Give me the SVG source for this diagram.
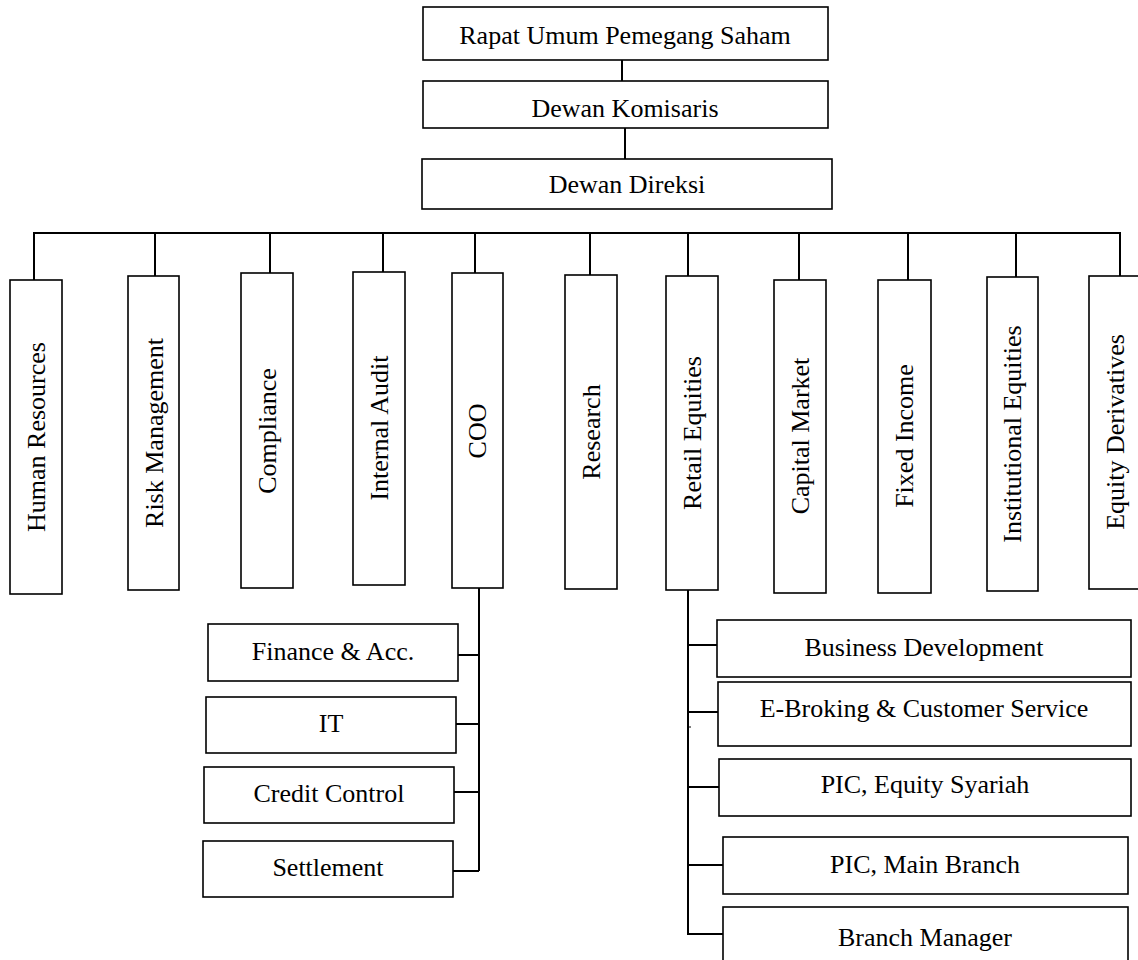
<svg xmlns="http://www.w3.org/2000/svg" width="1138" height="960" viewBox="0 0 1138 960">
<style>
rect{fill:#fff;stroke:#000;stroke-width:1.6}
.c{fill:none;stroke:#000;stroke-width:2}
text{font-family:"Liberation Serif","Times New Roman",serif;font-size:26px;fill:#000;text-anchor:middle}
.v{font-size:26px}
</style>
<rect x="0" y="0" width="1138" height="960" style="stroke:none"/>
<g id="connectors">
<path class="c" d="M622 60V81M625 128V159"/>
<path class="c" d="M34 280V233H1120V276"/>
<path class="c" d="M155 233V276M270 233V273M383 233V272M475 233V273M590 233V275M688 233V276M799 233V280M908 233V280M1016 233V277"/>
<path class="c" d="M479 588V871M458 655H479M456 724H479M454 792H479M453 871H479"/>
<path class="c" d="M688 590V934H723M688 645H717M688 712H718M688 787H719M688 865H723"/>
<path class="c" style="stroke-width:1" d="M688 727H691"/>
</g>
<g id="rups"><rect x="423" y="7" width="405" height="53"/><text x="625" y="44">Rapat Umum Pemegang Saham</text></g>
<g id="komisaris"><rect x="423" y="81" width="405" height="47"/><text x="625" y="117">Dewan Komisaris</text></g>
<g id="direksi"><rect x="422" y="159" width="410" height="50"/><text x="627" y="193">Dewan Direksi</text></g>

<g id="hr"><rect x="10" y="280" width="52" height="314"/><text class="v" transform="translate(45 437) rotate(-90)">Human Resources</text></g>
<g id="rm"><rect x="128" y="276" width="51" height="314"/><text class="v" transform="translate(163 433) rotate(-90)">Risk Management</text></g>
<g id="compliance"><rect x="241" y="273" width="52" height="315"/><text class="v" transform="translate(276 431) rotate(-90)">Compliance</text></g>
<g id="audit"><rect x="353" y="272" width="52" height="313"/><text class="v" transform="translate(388 428) rotate(-90)">Internal Audit</text></g>
<g id="coo"><rect x="452" y="273" width="51" height="315"/><text class="v" transform="translate(486 431) rotate(-90)">COO</text></g>
<g id="research"><rect x="565" y="275" width="52" height="314"/><text class="v" transform="translate(600 432) rotate(-90)">Research</text></g>
<g id="retail"><rect x="666" y="276" width="52" height="314"/><text class="v" transform="translate(701 433) rotate(-90)">Retail Equities</text></g>
<g id="capital"><rect x="774" y="280" width="52" height="313"/><text class="v" transform="translate(809 436) rotate(-90)">Capital Market</text></g>
<g id="fixed"><rect x="878" y="280" width="53" height="313"/><text class="v" transform="translate(913 436) rotate(-90)">Fixed Income</text></g>
<g id="institutional"><rect x="987" y="277" width="51" height="314"/><text class="v" transform="translate(1021 434) rotate(-90)">Institutional Equities</text></g>
<g id="derivatives"><rect x="1089" y="276" width="52" height="313"/><text class="v" transform="translate(1124 432) rotate(-90)">Equity Derivatives</text></g>

<g id="finance"><rect x="208" y="624" width="250" height="57"/><text x="333" y="660">Finance &amp; Acc.</text></g>
<g id="it"><rect x="206" y="697" width="250" height="56"/><text x="331" y="732">IT</text></g>
<g id="credit"><rect x="204" y="767" width="250" height="56"/><text x="329" y="802">Credit Control</text></g>
<g id="settlement"><rect x="203" y="841" width="250" height="56"/><text x="328" y="876">Settlement</text></g>

<g id="bizdev"><rect x="717" y="620" width="414" height="57"/><text x="924" y="656">Business Development</text></g>
<g id="ebroking"><rect x="718" y="682" width="413" height="64"/><text x="924" y="717">E-Broking &amp; Customer Service</text></g>
<g id="syariah"><rect x="719" y="759" width="412" height="57"/><text x="925" y="793">PIC, Equity Syariah</text></g>
<g id="mainbranch"><rect x="723" y="837" width="405" height="57"/><text x="925" y="873">PIC, Main Branch</text></g>
<g id="branchmgr"><rect x="723" y="907" width="405" height="60"/><text x="925" y="946">Branch Manager</text></g>
</svg>
